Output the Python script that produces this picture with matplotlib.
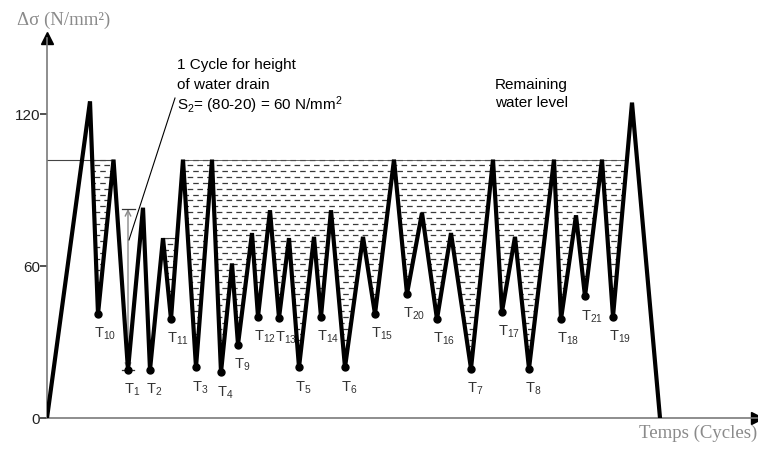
import numpy as np
import matplotlib
matplotlib.use("Agg")
import matplotlib.pyplot as plt

plt.rcParams['font.family'] = ['Liberation Sans', 'DejaVu Sans']
plt.rcParams['mathtext.fontset'] = 'custom'
plt.rcParams['mathtext.rm'] = 'Liberation Sans'
plt.rcParams['mathtext.default'] = 'regular'
plt.rcParams['lines.scale_dashes'] = False

# stress history (time in arbitrary steps, stress range in N/mm2)
t = [0, 4.3, 5.1, 6.65, 8.1, 9.6, 10.3, 11.6, 12.4, 13.6, 14.9, 16.5, 17.4, 18.5, 19.1,
     20.5, 21.1, 22.3, 23.2, 24.2, 25.2, 26.7, 27.4, 28.4, 29.8, 31.6, 32.8, 34.7, 36.0,
     37.5, 39.0, 40.4, 42.4, 44.6, 45.5, 46.8, 48.2, 50.7, 51.4, 52.9, 53.8, 55.5, 56.6,
     58.5, 61.3]
s = [0, 125, 41, 102, 19, 83, 19, 71, 39, 102, 20, 102, 18, 61, 29,
     73, 40, 82, 39.5, 71, 20, 71.5, 40, 82, 20, 71.5, 41, 102, 49,
     81, 39, 73, 19.5, 102, 42, 71.5, 19.5, 102, 39, 80, 48, 102, 40,
     124.5, 0]
# valley numbering, in time order (valleys are every second point from index 2)
valley_ids = [10, 1, 2, 11, 3, 4, 9, 12, 13, 5, 14, 6, 15, 20, 16, 7, 17, 8, 18, 21, 19]

water_level = 102
pocket_level = 71

t = np.array(t)
s = np.array(s)

fig = plt.figure(figsize=(7.58, 4.51), dpi=100)
ax = fig.add_axes([47 / 758, 33 / 451, 710 / 758, 380 / 451])
ax.set_xlim(0, 71)
ax.set_ylim(0, 150)

# axes look
for side in ['top', 'right']:
    ax.spines[side].set_visible(False)
for side in ['left', 'bottom']:
    ax.spines[side].set_color('#7a7a7a')
    ax.spines[side].set_linewidth(1.2)
ax.set_xticks([])
ax.set_yticks([0, 60, 120])
ax.tick_params(axis='y', length=5, width=1.2, color='#333333', pad=0,
               labelsize=11, labelcolor='#222222')
ax.plot(0, 1, '^', color='black', markersize=9, transform=ax.transAxes, clip_on=False)
ax.plot(1, 0, '>', color='black', markersize=9, transform=ax.transAxes, clip_on=False)


def water(level, lo, hi):
    mask = (s <= level + 1e-6) & (t >= lo) & (t <= hi)
    coll = ax.fill_between(t, s, level, where=mask, interpolate=True,
                           facecolor='none', edgecolor='none')
    rows = np.arange(level, 0, -2.3)
    for k, off in enumerate([0, 4]):
        lc = ax.hlines(rows[k::2], lo, hi, colors='#3a3a3a', linewidth=0.9,
                       linestyles=[(off, (4, 3))], zorder=2)
        for p in coll.get_paths()[:1]:
            lc.set_clip_path(p, ax.transData)


water(water_level, t[1], t[3])
water(pocket_level, t[7], t[9])
water(water_level, t[9], t[43])

# water surface lines
ax.plot([0, t[3]], [water_level, water_level], color='#444444', lw=0.8, zorder=2)
ax.plot([t[7], 12.9], [pocket_level, pocket_level], color='#444444', lw=0.8, zorder=2)
ax.plot([t[9], 57.8], [water_level, water_level], color='#555555', lw=0.6, zorder=2)

# stress history
ax.plot(t, s, color='black', lw=3.0, solid_joinstyle='miter', zorder=4)
vt = t[2:43:2]
vs = s[2:43:2]
ax.plot(vt, vs, 'o', color='black', markersize=5, zorder=5)
for x, y, n in zip(vt, vs, valley_ids):
    ax.annotate('T$_{%d}$' % n, (x, y), xytext=(-4, -20), textcoords='offset pixels',
                ha='left', va='center', fontsize=10.5, color='#333333')

# drained cycle marker at T1
x1 = t[4]
top = 82.5
ax.annotate('', xy=(x1, top), xytext=(x1, s[4]),
            arrowprops=dict(arrowstyle='<->', color='#888888', lw=1.0,
                            shrinkA=0, shrinkB=0), zorder=3)
ax.plot([x1 - 0.6, x1 + 0.7], [top, top], color='#333333', lw=0.9, zorder=3)
ax.plot([x1 - 0.6, x1 + 0.6], [s[4], s[4]], color='#333333', lw=0.9, zorder=3)
ax.plot([12.8, 8.2], [126.3, 70.3], color='black', lw=0.8, zorder=3)

ax.text(13.0, 139.4, '1 Cycle for height', fontsize=11, va='center', ha='left')
ax.text(13.0, 131.5, 'of water drain', fontsize=11, va='center', ha='left')
ax.text(13.0, 123.6, 'S$_2$= (80-20) = 60 N/mm$^2$', fontsize=11, va='center', ha='left')
ax.text(44.8, 131.5, 'Remaining', fontsize=11, va='center', ha='left')
ax.text(44.8, 124.4, 'water level', fontsize=11, va='center', ha='left')

fig.text(17 / 758, 1 - 20 / 451, 'Δσ (N/mm²)', family='Liberation Serif', fontsize=13.5,
         color='#8a8a8a', ha='left', va='center')
fig.text(757 / 758, 1 - 433 / 451, 'Temps (Cycles)', family='Liberation Serif',
         fontsize=13.5, color='#8a8a8a', ha='right', va='center')

fig.savefig('out.png', dpi=100)
